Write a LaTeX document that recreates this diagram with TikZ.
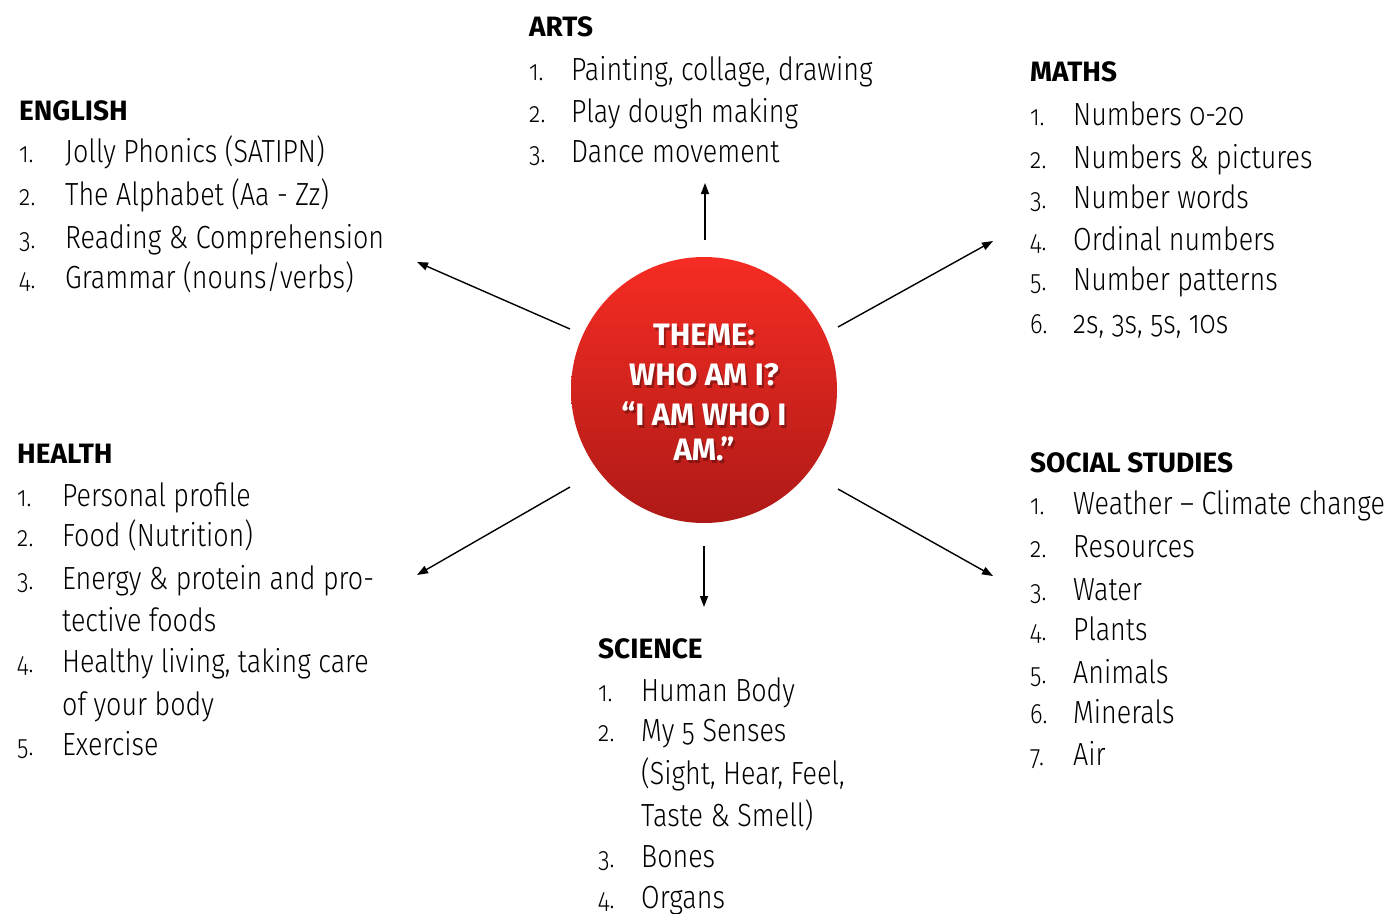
\documentclass[tikz,border=0pt]{standalone}
\usepackage{fontspec}
\setmainfont{Fira Sans}[UprightFont=* Light, BoldFont=* Bold, FakeStretch=0.84, Numbers=OldStyle]
\newfontfamily\headfont{Fira Sans}[UprightFont=* Bold, Ligatures=TeX]
\usetikzlibrary{arrows.meta}
\definecolor{themetop}{HTML}{F62C23}
\definecolor{themebot}{HTML}{AE1A17}
\tikzset{
  head/.style={anchor=base west, inner sep=0pt, font=\fontsize{28}{30}\headfont},
  numst/.style={anchor=base west, inner sep=0pt, font=\fontsize{28}{30}\selectfont},
  txt/.style={anchor=base west, inner sep=0pt, font=\fontsize{32}{36}\selectfont},
  conn/.style={line width=1.4pt, -{Triangle[length=11pt,width=8pt]}},
  ttl/.style={align=center, font=\fontsize{31}{40}\headfont, inner sep=0pt}
}
\newcommand\li[5]{\node[numst] (#1n) at (#2,#4) {#5.};}
\newcommand\lt[4]{\node[txt] (#1) at (#2,#3) {#4};}
\begin{document}
\begin{tikzpicture}[x=1pt,y=-1pt]
\useasboundingbox (0,0) rectangle (1389,913);
% central theme
\node[circle, minimum size=266pt, inner sep=0pt, top color=themetop, bottom color=themebot, draw=none] (theme) at (704,390) {};
\node[ttl, text=black, opacity=0.3] (themeshadow) at (706,396) {THEME:\\WHO AM I?\\“I AM WHO I\\[-5pt]AM.”};
\node[ttl, text=white] (themetext) at (704,393) {THEME:\\WHO AM I?\\“I AM WHO I\\[-5pt]AM.”};
% connectors
\coordinate (aS) at (705,240); \coordinate (aE) at (705,183);
\coordinate (sS) at (704,546); \coordinate (sE) at (704,607);
\coordinate (eS) at (570,329); \coordinate (eE) at (417,262);
\coordinate (mS) at (838,327); \coordinate (mE) at (993,241);
\coordinate (hS) at (570,487); \coordinate (hE) at (417,575);
\coordinate (soS) at (838,489); \coordinate (soE) at (993,576);
\draw[conn] (aS) -- (aE);
\draw[conn] (sS) -- (sE);
\draw[conn] (eS) -- (eE);
\draw[conn] (mS) -- (mE);
\draw[conn] (hS) -- (hE);
\draw[conn] (soS) -- (soE);
% ARTS
\node[head] (arts) at (529,36) {ARTS};
\li{a1}{529}{571}{80}{1}\lt{a1t}{571}{80}{Painting, collage, drawing}
\li{a2}{529}{571}{122}{2}\lt{a2t}{571}{122}{Play dough making}
\li{a3}{529}{571}{162}{3}\lt{a3t}{571}{162}{Dance movement}
% MATHS
\node[head] (maths) at (1030,81) {MATHS};
\li{m1}{1030}{1073}{125}{1}\lt{m1t}{1073}{125}{Numbers 0-20}
\li{m2}{1030}{1073}{168}{2}\lt{m2t}{1073}{168}{Numbers \& pictures}
\li{m3}{1030}{1073}{208}{3}\lt{m3t}{1073}{208}{Number words}
\li{m4}{1030}{1073}{250}{4}\lt{m4t}{1073}{250}{Ordinal numbers}
\li{m5}{1030}{1073}{290}{5}\lt{m5t}{1073}{290}{Number patterns}
\li{m6}{1030}{1073}{333}{6}\lt{m6t}{1073}{333}{2s, 3s, 5s, 10s}
% ENGLISH
\node[head] (english) at (19,120) {ENGLISH};
\li{e1}{19}{65}{162}{1}\lt{e1t}{65}{162}{Jolly Phonics (SATIPN)}
\li{e2}{19}{65}{205}{2}\lt{e2t}{65}{205}{The Alphabet (Aa - Zz)}
\li{e3}{19}{65}{248}{3}\lt{e3t}{65}{248}{Reading \& Comprehension}
\li{e4}{19}{65}{288}{4}\lt{e4t}{65}{288}{Grammar (nouns/verbs)}
% HEALTH
\node[head] (health) at (17,463) {HEALTH};
\li{h1}{17}{62}{506}{1}\lt{h1t}{62}{506}{Personal profile}
\li{h2}{17}{62}{546}{2}\lt{h2t}{62}{546}{Food (Nutrition)}
\li{h3}{17}{62}{589}{3}\lt{h3t}{62}{589}{Energy \& protein and pro-}
\lt{h3u}{62}{631}{tective foods}
\li{h4}{17}{62}{672}{4}\lt{h4t}{62}{672}{Healthy living, taking care}
\lt{h4u}{62}{715}{of your body}
\li{h5}{17}{62}{755}{5}\lt{h5t}{62}{755}{Exercise}
% SCIENCE
\node[head] (science) at (598,658) {SCIENCE};
\li{s1}{598}{641}{701}{1}\lt{s1t}{641}{701}{Human Body}
\li{s2}{598}{641}{741}{2}\lt{s2t}{641}{741}{My 5 Senses}
\lt{s2u}{641}{784}{(Sight, Hear, Feel,}
\lt{s2v}{641}{826}{Taste \& Smell)}
\li{s3}{598}{641}{867}{3}\lt{s3t}{641}{867}{Bones}
\li{s4}{598}{641}{908}{4}\lt{s4t}{641}{908}{Organs}
% SOCIAL STUDIES
\node[head] (social) at (1030,472) {SOCIAL STUDIES};
\li{o1}{1030}{1073}{514}{1}\lt{o1t}{1073}{514}{Weather -- Climate change}
\li{o2}{1030}{1073}{557}{2}\lt{o2t}{1073}{557}{Resources}
\li{o3}{1030}{1073}{600}{3}\lt{o3t}{1073}{600}{Water}
\li{o4}{1030}{1073}{640}{4}\lt{o4t}{1073}{640}{Plants}
\li{o5}{1030}{1073}{683}{5}\lt{o5t}{1073}{683}{Animals}
\li{o6}{1030}{1073}{723}{6}\lt{o6t}{1073}{723}{Minerals}
\li{o7}{1030}{1073}{765}{7}\lt{o7t}{1073}{765}{Air}
\end{tikzpicture}
\end{document}
